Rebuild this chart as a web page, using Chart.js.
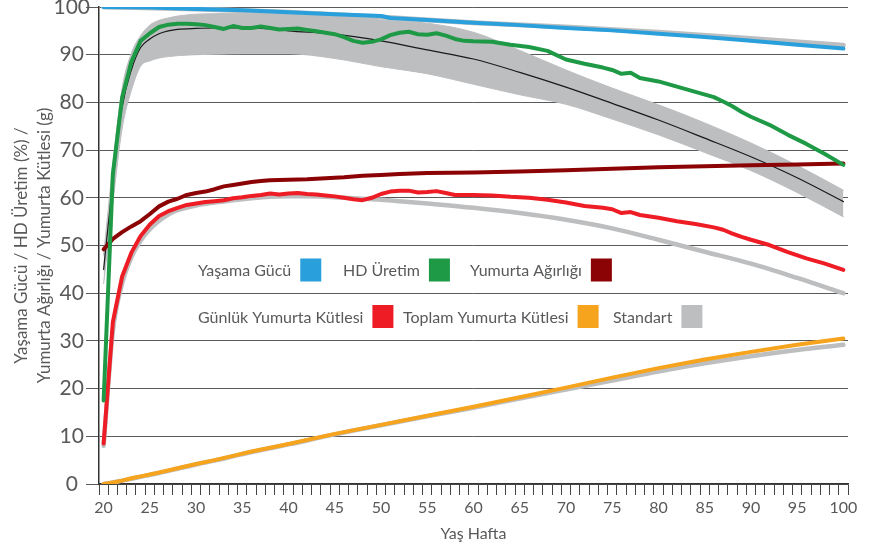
<!DOCTYPE html>
<html lang="tr">
<head>
<meta charset="UTF-8">
<title>Performans Standartları</title>
<script src="https://cdn.jsdelivr.net/npm/chart.js@4.4.1/dist/chart.umd.min.js"></script>
<style>
  body { margin: 0; background: #fff; }
  #wrap { width: 878px; height: 551px; }
</style>
</head>
<body>
<div id="wrap"><canvas id="chart"></canvas></div>
<script>
// --- weekly flock data (age in weeks) ---
const dailyWeeks = [20,21,22,23,24,25,26,27,28,29,30,31,32,33,34,35,36,37,38,39,40,41,42,43,44,45,46,47,48,49,50,51,52,53,54,55,56,57,58,59,60,62,64,66,68,70,72,74,75,76,77,78,80,82,84,86,87,88,89,90,92,94,96,98,100];
const hdProduction = [17.5,65.0,81.0,88.5,92.9,94.5,95.8,96.3,96.5,96.5,
  96.4,96.2,95.8,95.4,96.0,95.6,95.6,95.9,95.6,95.3,
  95.4,95.5,95.2,94.9,94.6,94.3,93.7,92.9,92.5,92.7,
  93.2,94.1,94.6,94.8,94.3,94.2,94.5,94.0,93.3,92.9,
  92.8,92.7,92.1,91.6,90.8,89.0,88.1,87.3,86.8,86.0,86.2,85.1,
  84.4,83.3,82.2,81.1,80.2,79.2,78.0,77.0,75.3,73.2,71.3,69.2,66.9];
const dailyEggMass = [8.5,34.0,43.5,48.5,52.0,54.4,56.2,57.2,57.9,58.5,
  58.8,59.1,59.3,59.5,59.9,60.1,60.4,60.6,60.9,60.7,
  60.9,61.0,60.8,60.7,60.5,60.3,60.0,59.7,59.5,60.0,
  60.8,61.3,61.5,61.5,61.1,61.2,61.4,61.0,60.6,60.6,
  60.6,60.5,60.2,60.0,59.6,59.0,58.3,57.9,57.6,56.8,57.0,56.4,
  55.8,55.1,54.5,53.8,53.3,52.5,51.8,51.2,50.1,48.6,47.3,46.2,44.9];

const weightWeeks = [20,21,22,23,24,25,26,27,28,29,30,31,32,33,34,35,36,37,38,40,42,44,46,48,50,52,55,60,65,70,75,80,85,90,95,100];
const eggWeight = [49.2,51.4,52.8,54.0,55.1,56.6,58.2,59.2,59.8,60.6,61.0,61.3,61.8,62.4,62.7,63.0,63.3,63.5,63.7,63.8,63.9,64.1,64.3,64.6,64.8,65.0,65.2,65.3,65.5,65.8,66.1,66.4,66.6,66.8,67.0,67.2];

const livWeeks = [20,25,30,35,40,45,50,51,55,60,65,70,75,80,85,90,95,100];
const livability = [100,99.9,99.6,99.3,98.9,98.5,98.1,97.7,97.3,96.7,96.2,95.6,95.1,94.4,93.7,92.9,92.1,91.3];

const cumWeeks = [20,21,22,23,24,25,26,28,30,32,34,36,38,40,45,50,55,60,65,70,75,80,85,90,95,100];
const totalEggMass = [0,0.3,0.7,1.2,1.6,2.0,2.4,3.3,4.2,5.0,5.9,6.8,7.6,8.4,10.5,12.4,14.3,16.2,18.2,20.2,22.3,24.3,26.1,27.7,29.2,30.5];

// --- breed standards ---
const stdLivWeeks = [20,30,40,50,60,70,80,90,100];
const stdLivability = [100,99.6,98.9,97.9,96.7,95.8,94.7,93.4,92.0];

const stdHdWeeks = [20,21,22,23,24,25,26,27,28,30,32,35,38,40,45,50,55,60,65,70,75,80,85,90,95,100];
const stdHdHigh = [48,67,83,90.3,94,96.2,97.2,97.7,98.1,98.5,98.6,98.7,98.7,98.6,98.0,97.3,96.6,94.7,90.9,86.8,83.0,79.5,75.7,71.5,66.8,61.6];
const stdHdMid  = [45,63.5,79,86.8,91.5,93.3,94.4,95.0,95.3,95.5,95.6,95.6,95.4,95.0,94.3,92.9,91.0,89.1,86.3,83.2,79.8,76.3,72.5,68.6,64.2,59.2];
const stdHdLow  = [42,59,74.5,82.5,87.6,88.7,89.3,89.6,89.8,90.0,90.1,90.2,90.2,90.2,89.2,87.5,86.0,83.8,81.6,79.6,76.5,73.2,69.5,65.7,61.1,56.0];

const stdMassWeeks = [20,21,22,23,24,25,26,27,28,30,32,34,36,38,40,42,44,46,48,50,52,55,60,65,70,75,80,85,90,95,100];
const stdDailyMass = [8,32,42,47.5,51,53.4,55.2,56.5,57.4,58.4,59.0,59.5,59.9,60.2,60.3,60.3,60.2,60.0,59.8,59.6,59.3,58.8,57.9,56.8,55.4,53.6,51.2,48.7,46.2,43.2,40.0];

const stdTotalEggMass = [0,0.3,0.7,1.1,1.5,1.9,2.3,3.2,4.1,4.9,5.8,6.7,7.5,8.3,10.4,12.3,14.2,16.0,17.9,19.8,21.7,23.6,25.3,26.8,28.1,29.2];

const BLUE = '#29a0dc', GREEN = '#1e9a46', DARKRED = '#8b0304',
      RED = '#ee1c25', ORANGE = '#f6a31d', GRAY = '#bcbec0', TEXT = '#58595b';
const FONT = 'Lato';

function pts(weeks, values) {
  return weeks.map((w, i) => ({ x: w, y: values[i] }));
}

// legend sits inside the plot, text first and the swatch after it
const legendRows = [
  ['Yaşama Gücü', 'HD Üretim', 'Yumurta Ağırlığı'],
  ['Günlük Yumurta Kütlesi', 'Toplam Yumurta Kütlesi', 'Standart']
];
const legendX = [[198, 343, 470], [198, 403, 613]];
const legendY = [270, 316.5];

const inlineLegend = {
  id: 'inlineLegend',
  afterDraw(chart) {
    const ctx = chart.ctx;
    ctx.save();
    ctx.font = '16px ' + FONT;
    ctx.textBaseline = 'middle';
    legendRows.forEach((row, r) => {
      row.forEach((label, i) => {
        const ds = chart.data.datasets.find(d => d.label === label);
        const x = legendX[r][i], y = legendY[r];
        ctx.fillStyle = TEXT;
        ctx.fillText(label, x, y + 1);
        const w = ctx.measureText(label).width;
        ctx.fillStyle = ds.borderColor;
        ctx.fillRect(x + w + 9, y - 11.5, 21, 23);
      });
    });
    ctx.restore();
  }
};

const smooth = { cubicInterpolationMode: 'monotone' };

new Chart(document.getElementById('chart'), {
  type: 'line',
  data: {
    datasets: [
      { label: 'Yaşama Gücü', data: pts(livWeeks, livability), borderColor: BLUE, borderWidth: 4 },
      { label: 'HD Üretim', data: pts(dailyWeeks, hdProduction), borderColor: GREEN, borderWidth: 4 },
      { label: 'Yumurta Ağırlığı', data: pts(weightWeeks, eggWeight), borderColor: DARKRED, borderWidth: 4 },
      { label: 'Günlük Yumurta Kütlesi', data: pts(dailyWeeks, dailyEggMass), borderColor: RED, borderWidth: 4 },
      { label: 'Toplam Yumurta Kütlesi', data: pts(cumWeeks, totalEggMass), borderColor: ORANGE, borderWidth: 4 },
      { label: 'Standart', data: pts(cumWeeks, stdTotalEggMass), borderColor: GRAY, borderWidth: 4.5, ...smooth },
      { label: 'Std Günlük Kütle', data: pts(stdMassWeeks, stdDailyMass), borderColor: GRAY, borderWidth: 4.5, ...smooth },
      { label: 'Std Yaşama Gücü', data: pts(stdLivWeeks, stdLivability), borderColor: GRAY, borderWidth: 5, ...smooth },
      { label: 'Std HD', data: pts(stdHdWeeks, stdHdMid), borderColor: '#1a1a1a', borderWidth: 1.2, ...smooth },
      { label: 'Std HD Üst', data: pts(stdHdWeeks, stdHdHigh), borderColor: GRAY, borderWidth: 1,
        backgroundColor: GRAY, fill: '+1', ...smooth },
      { label: 'Std HD Alt', data: pts(stdHdWeeks, stdHdLow), borderColor: GRAY, borderWidth: 1, ...smooth }
    ]
  },
  options: {
    responsive: true,
    maintainAspectRatio: false,
    animation: false,
    devicePixelRatio: 1,
    layout: { padding: { top: 7, right: 30, left: 0, bottom: 0 } },
    elements: { point: { radius: 0 }, line: { tension: 0, borderCapStyle: 'round', borderJoinStyle: 'round' } },
    plugins: { legend: { display: false }, tooltip: { enabled: false } },
    scales: {
      x: {
        type: 'linear',
        min: 19.5,
        max: 100.5,
        afterFit(scale) { scale.height = 67; scale.paddingLeft = 0; scale.paddingRight = 0; },
        border: { color: '#333', width: 1.5 },
        grid: {
          drawOnChartArea: false,
          tickLength: 11,
          color: c => (c.tick && Number.isInteger(c.tick.value)) ? 'rgba(0,0,0,0)' : '#444'
        },
        ticks: {
          stepSize: 0.5,
          autoSkip: false,
          maxRotation: 0,
          padding: 3,
          color: TEXT,
          font: { family: FONT, size: 16 },
          callback: v => (v % 5 === 0 ? v : '')
        },
        title: {
          display: true,
          text: 'Yaş Hafta',
          color: TEXT,
          font: { family: FONT, size: 16 },
          padding: { top: 0, bottom: 8 }
        }
      },
      y: {
        min: 0,
        max: 100,
        afterFit(scale) { scale.width = 99; scale.paddingTop = 0; scale.paddingBottom = 0; },
        border: { color: '#333', width: 1.5 },
        grid: { color: '#5a5a5a', lineWidth: 1, tickLength: 13 },
        ticks: {
          stepSize: 10,
          padding: -4,
          crossAlign: 'center',
          color: TEXT,
          font: { family: FONT, size: 21 }
        },
        title: {
          display: true,
          text: ['Yaşama Gücü / HD Üretim (%) /', 'Yumurta Ağırlığı / Yumurta Kütlesi (g)'],
          color: TEXT,
          font: { family: FONT, size: 17, lineHeight: 1.35 },
          padding: { top: 10.5, bottom: 0 }
        }
      }
    }
  },
  plugins: [inlineLegend]
});
</script>
</body>
</html>
